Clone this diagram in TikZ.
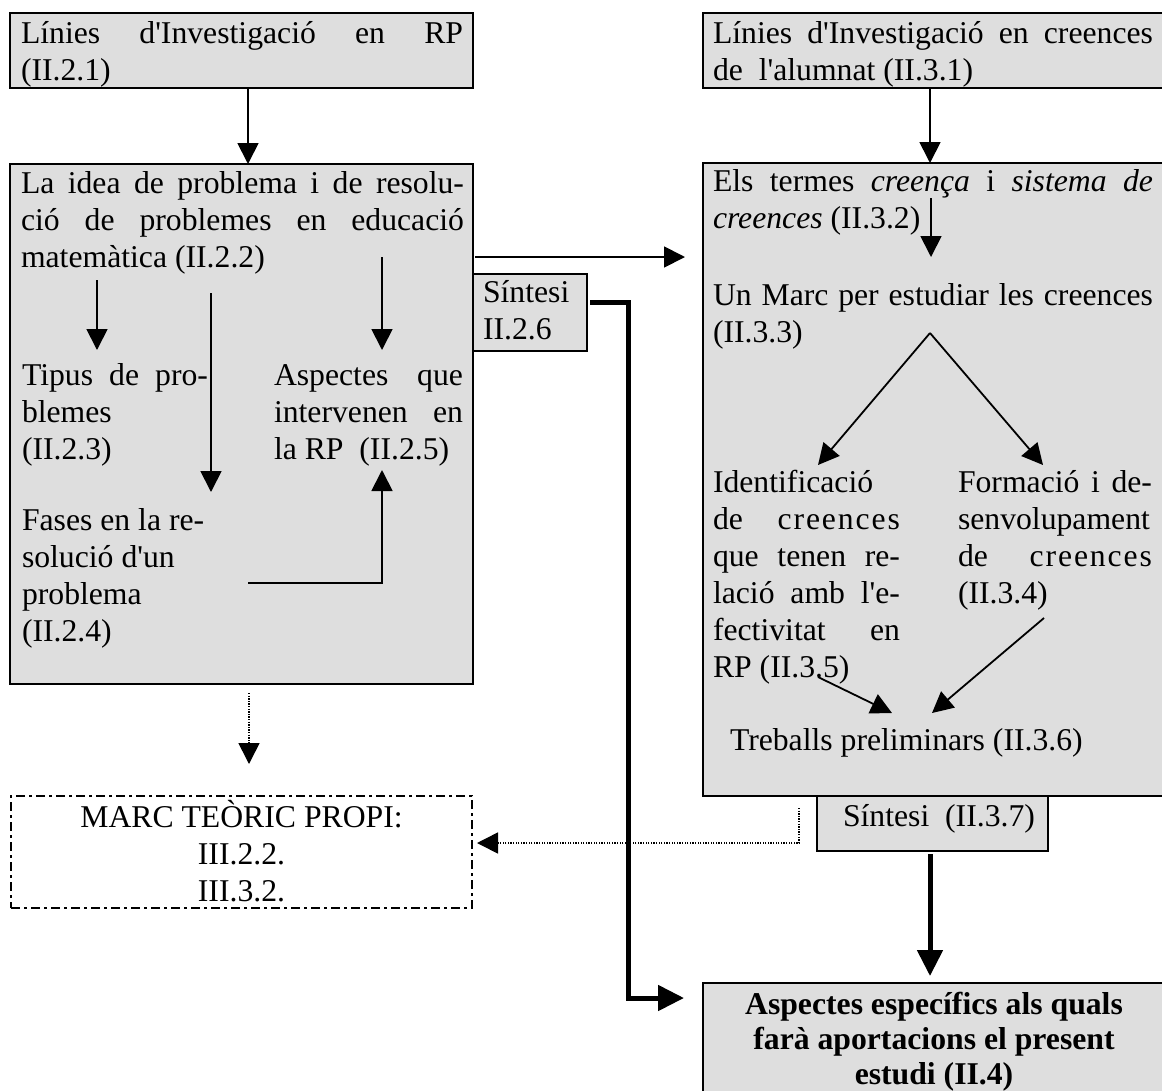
\documentclass[tikz,border=0pt]{standalone}
\usepackage{fontspec}
\setmainfont{Liberation Serif}[Ligatures=TeXOff]
\usetikzlibrary{arrows.meta}
\definecolor{boxgray}{RGB}{222,222,222}
\newcommand\diagfont{\fontsize{31.7}{37}\selectfont}
\newcommand\lsp[1]{{\addfontfeature{LetterSpace=6}#1}}
\begin{document}
\begin{tikzpicture}[x=1pt,y=-1pt,
  box/.style={draw, line width=2.6pt, fill=boxgray, inner sep=0pt, outer sep=0pt, anchor=north west},
  dbox/.style={draw, line width=2pt, dash pattern=on 9pt off 4pt on 3pt off 4pt, inner sep=0pt, outer sep=0pt, anchor=north west},
  txt/.style={inner sep=0pt, outer sep=0pt, anchor=base west, font=\diagfont},
  ctxt/.style={inner sep=0pt, outer sep=0pt, anchor=base, font=\diagfont},
  arr/.style={line width=1.8pt, -{Triangle[width=21pt,length=21pt]}},
  thickarr/.style={line width=5pt, -{Triangle[width=25pt,length=26pt]}},
  dots/.style={line width=1.6pt, dash pattern=on 1.3pt off 1.3pt, -{Triangle[width=21pt,length=21pt]}}
]
\useasboundingbox (0,0) rectangle (1162,1090);
\fill[white] (0,0) rectangle (1162,1090);
\clip (0,0) rectangle (1162,1090);

% boxes
\node[box, minimum width=463pt, minimum height=75pt] (A) at (10,13) {};
\node[box, minimum width=463pt, minimum height=520pt] (B) at (10,164) {};
\node[box, minimum width=462pt, minimum height=75pt] (C) at (703,13) {};
\node[box, minimum width=462pt, minimum height=633pt] (D) at (703,163) {};
\node[box, minimum width=114pt, minimum height=77pt] (S1) at (473,274) {};
\node[box, minimum width=231pt, minimum height=55pt] (S2) at (817,796) {};
\node[box, minimum width=462pt, minimum height=125pt] (E) at (703,983) {};
\node[dbox, minimum width=461pt, minimum height=112pt] (M) at (11,796) {};

% texts
\node[txt] (tA) at (21,43) {\parbox[t]{442pt}{\makebox[442pt][s]{Línies d'Investigació en RP}\\(II.2.1)}};
\node[txt] (tB) at (21,193) {\parbox[t]{443pt}{\makebox[443pt][s]{La idea de problema i de resolu-}\\\makebox[443pt][s]{ció de problemes en educació}\\matemàtica (II.2.2)}};
\node[txt] (tC) at (713,43) {\parbox[t]{440pt}{\makebox[440pt][s]{Línies d'Investigació en creences}\\de\ \ l'alumnat (II.3.1)}};
\node[txt] (tD) at (713,191) {\parbox[t]{440pt}{\makebox[440pt][s]{Els termes \textit{creença} i \textit{sistema de}}\\\textit{creences} (II.3.2)}};
\node[txt] (tMarc) at (713,305) {\parbox[t]{440pt}{\makebox[440pt][s]{Un Marc per estudiar les creences}\\(II.3.3)}};
\node[txt] (tId) at (713,492) {\parbox[t]{187pt}{Identificació\\\makebox[187pt][s]{de \lsp{creences}}\\\makebox[187pt][s]{que tenen re-}\\\makebox[187pt][s]{lació amb l'e-}\\\makebox[187pt][s]{fectivitat en}\\RP (II.3.5)}};
\node[txt] (tFo) at (958,492) {\parbox[t]{194pt}{\makebox[194pt][s]{Formació i de-}\\senvolupament\\\makebox[194pt][s]{de \lsp{creences}}\\(II.3.4)}};
\node[txt] (tTr) at (730,750) {Treballs preliminars (II.3.6)};
\node[txt] (tTi) at (22,385) {\parbox[t]{186pt}{\makebox[186pt][s]{Tipus de pro-}\\blemes\\(II.2.3)}};
\node[txt] (tAs) at (274,385) {\parbox[t]{189pt}{\makebox[189pt][s]{Aspectes que}\\\makebox[189pt][s]{intervenen en}\\la RP\ \ (II.2.5)}};
\node[txt] (tFa) at (22,530) {\parbox[t]{200pt}{Fases en la re-\\solució d'un\\problema\\(II.2.4)}};
\node[txt] (tS1) at (483,302) {\parbox[t]{100pt}{Síntesi\\II.2.6}};
\node[ctxt] (tM) at (241.5,827) {\parbox[t]{461pt}{\centering MARC TEÒRIC PROPI:\\III.2.2.\\III.3.2.}};
\node[txt] (tS2) at (843,826) {Síntesi\ \ (II.3.7)};
\node[ctxt] (tE) at (934,1014) {\parbox[t]{462pt}{\centering\bfseries\fontsize{31.7}{35}\selectfont Aspectes específics als quals\\farà aportacions el present\\estudi (II.4)}};

% coordinates
\coordinate (xAB) at (248,0);
\coordinate (xCD) at (930,0);
\coordinate (yBD) at (0,257);
\coordinate (b1s) at (97,280);   \coordinate (b1e) at (97,350);
\coordinate (b2s) at (211,293);  \coordinate (b2e) at (211,492);
\coordinate (b3s) at (382,257);  \coordinate (b3e) at (382,350);
\coordinate (b4s) at (248,583);  \coordinate (b4c) at (382,583); \coordinate (b4e) at (382,470);
\coordinate (d1s) at (931,198);  \coordinate (d1e) at (931,257);
\coordinate (apex) at (930,333);
\coordinate (dL) at (818,465);   \coordinate (dR) at (1043,465);
\coordinate (p1s) at (818,677);  \coordinate (p1e) at (892,713);
\coordinate (p2s) at (1044,618); \coordinate (p2e) at (932,713);
\coordinate (t1) at (590,302);   \coordinate (t2) at (628,302);
\coordinate (t3) at (628,998);   \coordinate (t4) at (684,998);
\coordinate (q1) at (799,808);   \coordinate (q2) at (799,843);
\coordinate (r1) at (249,693);   \coordinate (r2) at (249,764);

% connectors
\draw[arr] (A.south -| xAB) -- (B.north -| xAB);
\draw[arr] (C.south -| xCD) -- (D.north -| xCD);
\draw[arr, shorten <=2pt, shorten >=18pt] (B.east |- yBD) -- (D.west |- yBD);
\draw[arr] (b1s) -- (b1e);
\draw[arr] (b2s) -- (b2e);
\draw[arr] (b3s) -- (b3e);
\draw[arr] (b4s) -- (b4c) -- (b4e);
\draw[arr] (d1s) -- (d1e);
\draw[arr] (apex) -- (dL);
\draw[arr] (apex) -- (dR);
\draw[arr] (p1s) -- (p1e);
\draw[arr] (p2s) -- (p2e);
\draw[thickarr] (t1) -- (t2) -- (t3) -- (t4);
\draw[thickarr, shorten <=3pt, shorten >=7pt] (S2.south -| xCD) -- (E.north -| xCD);
\draw[dots, shorten >=5pt] (q1) -- (q2) -- (M.east |- q2);
\draw[dots] (r1) -- (r2);
\end{tikzpicture}
\end{document}
